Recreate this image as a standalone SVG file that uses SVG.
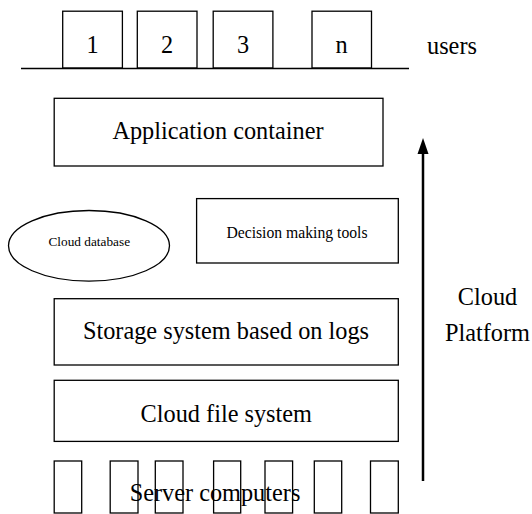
<svg xmlns="http://www.w3.org/2000/svg" width="532" height="514" viewBox="0 0 532 514">
<style>
text{font-family:"Liberation Serif","Times New Roman",serif;fill:#000}
.b{fill:#fff;stroke:#000;stroke-width:1.3}
.s{fill:none;stroke:#000;stroke-width:1.3}
.t24{font-size:24.3px}
.m{text-anchor:middle}
</style>
<rect width="532" height="514" fill="#fff"/>
<g id="users">
<g id="user1"><rect class="b" x="62.7" y="11.2" width="59.7" height="56.8"/><text class="t24 m" x="92.5" y="52.5">1</text></g>
<g id="user2"><rect class="b" x="137.3" y="11.2" width="59.7" height="56.8"/><text class="t24 m" x="167" y="52.5">2</text></g>
<g id="user3"><rect class="b" x="213.2" y="11.2" width="59.7" height="56.8"/><text class="t24 m" x="243" y="52.5">3</text></g>
<g id="usern"><rect class="b" x="312" y="11.2" width="59.5" height="56.8"/><text class="t24 m" x="341.7" y="52.5">n</text></g>
<text id="users-label" class="t24" x="427" y="53.5">users</text>
</g>
<g id="app-container"><rect class="b" x="54.2" y="98.3" width="328.8" height="67.7"/><text class="t24 m" x="218" y="139">Application container</text></g>
<g id="cloud-database"><ellipse class="b" cx="89" cy="245.8" rx="80.5" ry="35.3"/><text class="m" style="font-size:13.3px" x="89.3" y="246">Cloud database</text></g>
<g id="decision-tools"><rect class="b" x="196.6" y="198.6" width="201.7" height="64.4"/><text class="m" style="font-size:15.7px" x="297" y="237.6">Decision making tools</text></g>
<g id="storage"><rect class="b" x="54.2" y="298.7" width="344.1" height="66.3"/><text class="t24 m" x="226" y="339.3">Storage system based on logs</text></g>
<g id="file-system"><rect class="b" x="54.2" y="380.3" width="344.1" height="61.1"/><text class="t24 m" x="226.3" y="422">Cloud file system</text></g>
<g id="servers">
<text class="t24 m" x="215" y="500.7">Server computers</text>
<rect class="s" x="54.2" y="461" width="27.5" height="52"/>
<rect class="s" x="110.2" y="461" width="27.8" height="52"/>
<rect class="s" x="155.3" y="461" width="27.7" height="52"/>
<rect class="s" x="213.6" y="461" width="27.1" height="52"/>
<rect class="s" x="265" y="461" width="27.6" height="52"/>
<rect class="s" x="314.3" y="461" width="27.4" height="52"/>
<rect class="s" x="370.5" y="461" width="27.8" height="52"/>
</g>
<g id="platform-label"><text class="t24 m" x="487.5" y="304.5">Cloud</text><text class="t24 m" x="487.5" y="340.5">Platform</text></g>
<g id="connectors">
<line x1="21" y1="68.5" x2="409" y2="68.5" stroke="#000" stroke-width="1.3"/>
<line x1="423" y1="481" x2="423" y2="150" stroke="#000" stroke-width="2.5"/>
<polygon points="423,138 417.5,154 428.5,154" fill="#000"/>
</g>
</svg>
